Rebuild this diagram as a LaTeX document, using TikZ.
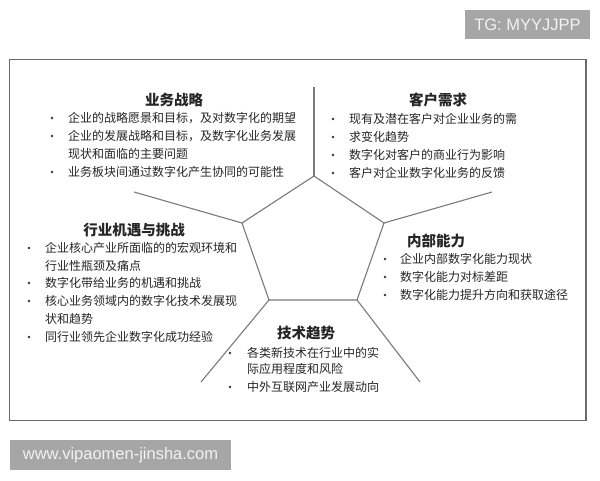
\documentclass[tikz,border=0pt]{standalone}
\usepackage{fontspec}
\newfontfamily\cjk{Noto Sans CJK SC}
\newfontfamily\lat{Liberation Sans}
\definecolor{txt}{HTML}{262626}
\definecolor{linec}{HTML}{7A7A7A}
\definecolor{framec}{HTML}{6B6B6B}
\definecolor{tagc}{HTML}{A6A6A6}
\definecolor{dotc}{HTML}{333333}
\tikzset{
  ttl/.style={font=\cjk\bfseries\fontsize{14.5}{16}\selectfont, text=txt, inner sep=0pt},
  ln/.style={font=\cjk\fontsize{12}{14}\selectfont, text=txt, anchor=west, inner sep=0pt},
  bul/.style={circle, fill=dotc, inner sep=0pt, minimum size=2.6pt},
  spoke/.style={draw=linec, line width=1.1pt},
  tag/.style={fill=tagc, text=white!95!black, font=\lat\fontsize{16.5}{18}\selectfont, inner sep=0pt},
}
\begin{document}
\begin{tikzpicture}[x=1pt,y=-1pt]
\useasboundingbox (0,0) rectangle (600,480);
\fill[white] (0,0) rectangle (600,480);
% tags
\node[tag, minimum width=125pt, minimum height=29pt] (tg) at (527.5,24.5) {TG: MYYJJPP};
\node[tag, minimum width=221pt, minimum height=30pt] (web) at (120.5,455) {www.vipaomen-jinsha.com};
% frame
\draw[framec, line width=1.6pt] (9.5,59.5) rectangle (586,420.5);
% pentagon
\coordinate (p1) at (314,176);
\coordinate (p2) at (384,223);
\coordinate (p3) at (357,300);
\coordinate (p4) at (269,300);
\coordinate (p5) at (242,223);
\coordinate (e1) at (314,87);
\coordinate (e2) at (492,192);
\coordinate (e3) at (420,382);
\coordinate (e4) at (201,382);
\coordinate (e5) at (134,192);
\draw[spoke, line join=round] (p1) -- (p2) -- (p3) -- (p4) -- (p5) -- cycle;
\draw[spoke] (p1) -- (e1);
\draw[spoke] (p2) -- (e2);
\draw[spoke] (p3) -- (e3);
\draw[spoke] (p4) -- (e4);
\draw[spoke] (p5) -- (e5);
% 业务战略
\node[ttl] (t1) at (174,100) {业务战略};
\node[bul] (d11) at (52,118) {};
\node[ln] (l11) at (68,118) {企业的战略愿景和目标，及对数字化的期望};
\node[bul] (d12) at (52,136) {};
\node[ln] (l12) at (68,136) {企业的发展战略和目标，及数字化业务发展};
\node[ln] (l13) at (68,154) {现状和面临的主要问题};
\node[bul] (d14) at (52,172) {};
\node[ln] (l14) at (68,172) {业务板块间通过数字化产生协同的可能性};
% 客户需求
\node[ttl] (t2) at (438,100) {客户需求};
\node[bul] (d21) at (333,119) {};
\node[ln] (l21) at (349,119) {现有及潜在客户对企业业务的需};
\node[bul] (d22) at (333,137) {};
\node[ln] (l22) at (349,137) {求变化趋势};
\node[bul] (d23) at (333,155) {};
\node[ln] (l23) at (349,155) {数字化对客户的商业行为影响};
\node[bul] (d24) at (333,173) {};
\node[ln] (l24) at (349,173) {客户对企业数字化业务的反馈};
% 行业机遇与挑战
\node[ttl] (t3) at (134,230) {行业机遇与挑战};
\node[bul] (d31) at (29,248) {};
\node[ln] (l31) at (45,248) {企业核心产业所面临的的宏观环境和};
\node[ln] (l32) at (45,266) {行业性瓶颈及痛点};
\node[bul] (d33) at (29,283) {};
\node[ln] (l33) at (45,283) {数字化带给业务的机遇和挑战};
\node[bul] (d34) at (29,301) {};
\node[ln] (l34) at (45,301) {核心业务领域内的数字化技术发展现};
\node[ln] (l35) at (45,319) {状和趋势};
\node[bul] (d36) at (29,337) {};
\node[ln] (l36) at (45,337) {同行业领先企业数字化成功经验};
% 内部能力
\node[ttl] (t4) at (436,241) {内部能力};
\node[bul] (d41) at (385,259) {};
\node[ln] (l41) at (400,259) {企业内部数字化能力现状};
\node[bul] (d42) at (385,277) {};
\node[ln] (l42) at (400,277) {数字化能力对标差距};
\node[bul] (d43) at (385,295) {};
\node[ln] (l43) at (400,295) {数字化能力提升方向和获取途径};
% 技术趋势
\node[ttl] (t5) at (306,333) {技术趋势};
\node[bul] (d51) at (230,353) {};
\node[ln] (l51) at (247,353) {各类新技术在行业中的实};
\node[ln] (l52) at (247,369) {际应用程度和风险};
\node[bul] (d53) at (230,387) {};
\node[ln] (l53) at (247,387) {中外互联网产业发展动向};
\end{tikzpicture}
\end{document}
